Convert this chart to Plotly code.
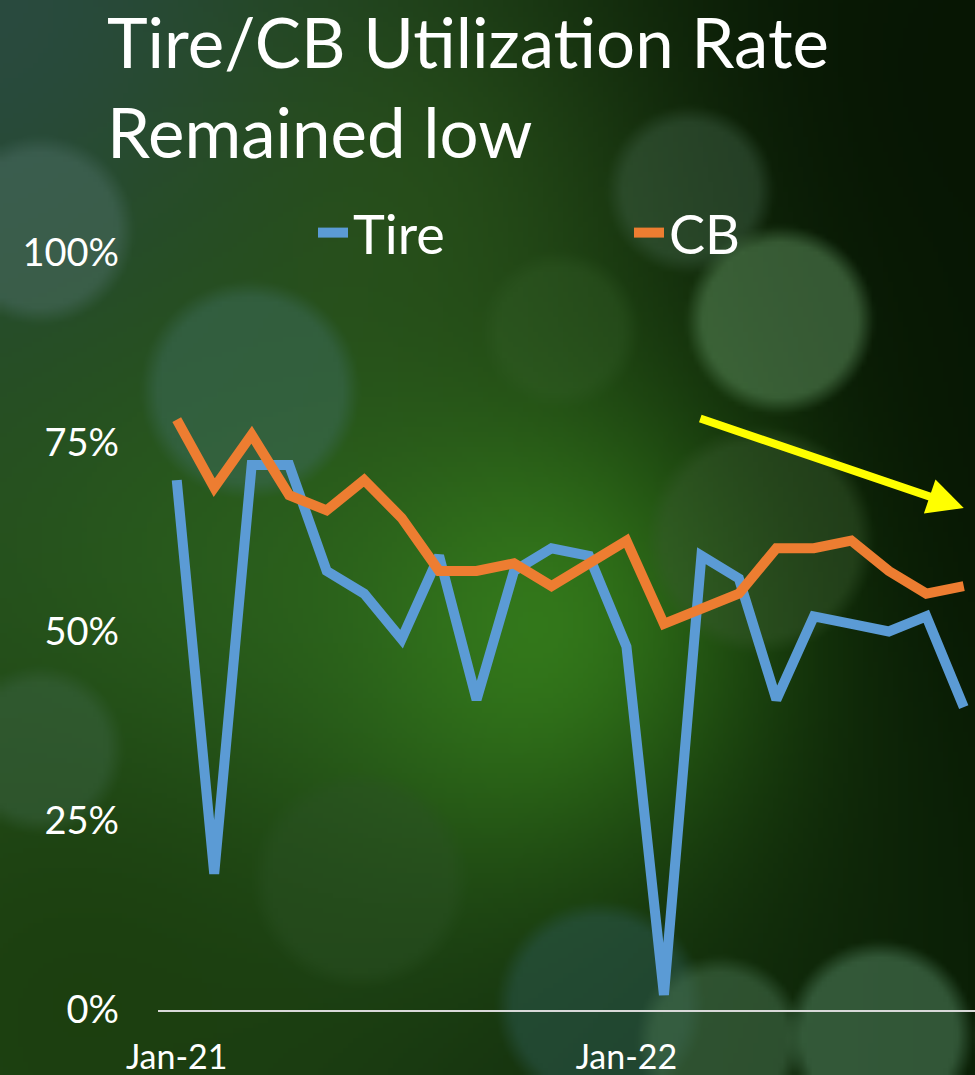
import numpy as np
import zlib, struct, base64
import plotly.graph_objects as go

# ---------------- data ----------------
months = ["Jan-21", "Feb-21", "Mar-21", "Apr-21", "May-21", "Jun-21", "Jul-21", "Aug-21",
          "Sep-21", "Oct-21", "Nov-21", "Dec-21", "Jan-22", "Feb-22", "Mar-22", "Apr-22",
          "May-22", "Jun-22", "Jul-22", "Aug-22", "Sep-22", "Oct-22"]
tire = [70, 18, 72, 72, 58, 55, 49, 60, 41, 58, 61, 60, 48, 2, 60, 57, 41, 52, 51, 50, 52, 40]
cb = [78, 69, 76, 68, 66, 70, 65, 58, 58, 59, 56, 59, 62, 51, 53, 55, 61, 61, 62, 58, 55, 56]
y_ticks = [0, 25, 50, 75, 100]
y_ticktext = ["0%", "25%", "50%", "75%", "100%"]
x_ticks = ["Jan-21", "Jan-22"]

# ---------------- decorative bokeh background (generated) ----------------
FW, FH, S = 975, 1075, 5
W, H = FW // S, FH // S
yy, xx = np.mgrid[0:H, 0:W].astype(float)
xx = xx * S + S / 2
yy = yy * S + S / 2

def hexrgb(h):
    h = h.lstrip("#")
    return np.array([int(h[i:i + 2], 16) for i in (0, 2, 4)], float)

t = (xx / FW)[..., None]
img = hexrgb("#22481a") * (1 - t) + hexrgb("#0b2006") * t

def glow(cx, cy, sig, col, a):
    global img
    d2 = (xx - cx) ** 2 + (yy - cy) ** 2
    al = (a * np.exp(-d2 / (2 * sig ** 2)))[..., None]
    img = img * (1 - al) + hexrgb(col) * al

def disc(cx, cy, r, col, a, edge=18):
    global img
    d = np.sqrt((xx - cx) ** 2 + (yy - cy) ** 2)
    al = (a * np.clip((r - d) / edge, 0, 1))[..., None]
    img = img * (1 - al) + hexrgb(col) * al

glow(0, 0, 260, "#2a4a44", 0.9)
glow(900, 80, 260, "#061303", 0.8)
glow(950, 500, 200, "#061403", 0.7)
glow(520, 620, 170, "#3a8a1c", 0.85)
glow(230, 600, 200, "#2f6a20", 0.6)
glow(60, 1000, 200, "#1a3c0c", 0.7)
glow(420, 200, 180, "#2e5a1c", 0.6)
disc(40, 230, 95, "#4a6c62", 0.55)
disc(250, 390, 110, "#3c6a58", 0.55)
disc(690, 190, 85, "#42644a", 0.45)
disc(780, 320, 95, "#5a8a5a", 0.55)
disc(760, 540, 115, "#3a5c30", 0.45)
disc(40, 750, 85, "#3c6444", 0.5)
disc(360, 880, 110, "#2c5226", 0.45)
disc(600, 1005, 105, "#2a5548", 0.6)
disc(720, 1040, 85, "#46704e", 0.55)
disc(880, 1035, 95, "#4c7a58", 0.6)
disc(560, 330, 80, "#35602a", 0.35)

arr = np.clip(img, 0, 255).astype(np.uint8)
raw = b"".join(b"\x00" + row.tobytes() for row in arr)

def chunk(tag, data):
    return struct.pack(">I", len(data)) + tag + data + struct.pack(">I", zlib.crc32(tag + data) & 0xffffffff)

png = (b"\x89PNG\r\n\x1a\n" + chunk(b"IHDR", struct.pack(">IIBBBBB", W, H, 8, 2, 0, 0, 0))
       + chunk(b"IDAT", zlib.compress(raw, 9)) + chunk(b"IEND", b""))
bg_uri = "data:image/png;base64," + base64.b64encode(png).decode()

# ---------------- figure ----------------
L, R, T, B = 158, 0, 253, 65
PW, PH = FW - L - R, FH - T - B

fig = go.Figure()
fig.add_trace(go.Scatter(x=months, y=tire, name="Tire", mode="lines",
                         line=dict(color="#5b9bd5", width=10)))
fig.add_trace(go.Scatter(x=months, y=cb, name="CB", mode="lines",
                         line=dict(color="#ed7d31", width=10)))

fig.add_layout_image(dict(source=bg_uri, xref="paper", yref="paper",
                          x=-L / PW, y=1 + T / PH, sizex=FW / PW, sizey=FH / PH,
                          xanchor="left", yanchor="top", sizing="stretch", layer="below"))

# title as annotation
fig.add_annotation(text="Tire/CB Utilization Rate<br>Remained low", xref="paper", yref="paper",
                   x=(106 - L) / PW, y=1 + (T + 1) / PH, xanchor="left", yanchor="top",
                   align="left", showarrow=False, borderpad=0,
                   font=dict(family="Lato", size=69, color="white"))

# trend arrow
fig.add_annotation(x=21.0, y=66.3, ax=13.93, ay=78.2, xref="x", yref="y", axref="x", ayref="y",
                   showarrow=True, arrowhead=2, arrowsize=0.9, arrowwidth=8,
                   arrowcolor="#ffff00", text="")

fig.update_layout(
    width=FW, height=FH,
    margin=dict(l=L, r=R, t=T, b=B, autoexpand=False),
    paper_bgcolor="#163a0e", plot_bgcolor="rgba(0,0,0,0)",
    font=dict(family="Lato", color="white"),
    showlegend=True,
    legend=dict(orientation="h", x=(313 - L) / PW, xanchor="left",
                y=(1010 - 233) / PH, yanchor="middle",
                font=dict(family="Lato", size=54, color="white"),
                bgcolor="rgba(0,0,0,0)", entrywidth=271, entrywidthmode="pixels",
                itemclick=False),
    xaxis=dict(type="category", range=[-0.5, 21.3], tickmode="array", tickvals=x_ticks,
               ticktext=x_ticks, showgrid=False, zeroline=False, showline=True,
               linecolor="#d9d9d9", linewidth=2, ticks="", ticklabelstandoff=16,
               automargin=False,
               tickfont=dict(family="Lato", size=34, color="white")),
    yaxis=dict(range=[0, 100], tickmode="array", tickvals=y_ticks, ticktext=y_ticktext,
               showgrid=False, zeroline=False, showline=False, ticks="",
               ticklabelstandoff=38, automargin=False,
               tickfont=dict(family="Lato", size=38, color="white")),
)

fig.write_html("out.html", config={"responsive": False, "displayModeBar": False},
               post_script="document.body.style.margin='0';document.body.style.overflow='hidden';")
